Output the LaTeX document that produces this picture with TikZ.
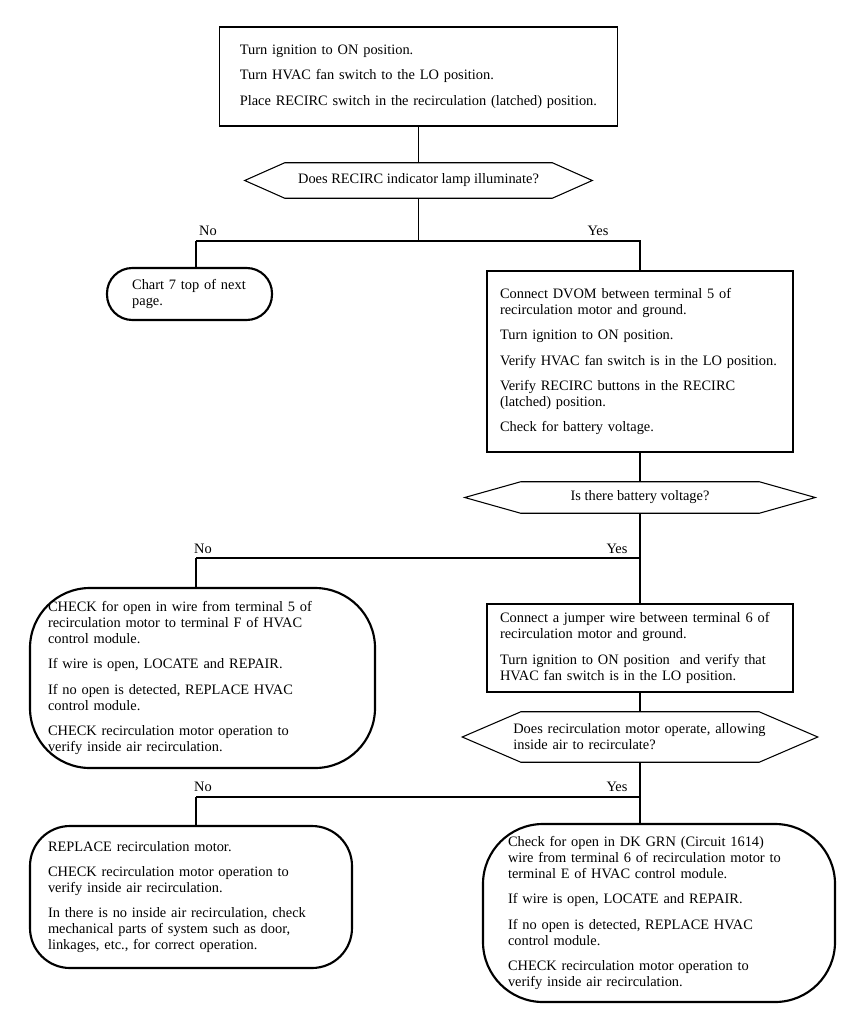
\documentclass[tikz,border=0pt]{standalone}
\usepackage{fontspec}
\setmainfont{Liberation Serif}
\usepackage{tikz}

\begin{document}
\begin{tikzpicture}[x=0.75pt, y=-0.75pt, font=\fontsize{10.8}{12}\selectfont,
    stepbox/.style={rectangle, draw=black, line width=0.8pt, inner sep=0pt, align=left},
    askbox/.style={rectangle, inner sep=0pt, align=center},
    endbox/.style={rectangle, draw=black, line width=1.6pt, inner sep=0pt, align=left},
    wire/.style={draw=black, line width=0.8pt},
    answer/.style={inner sep=1pt}]

    \useasboundingbox (0,0) rectangle (864,1030);

    \node (start) [stepbox, minimum width=298.5pt, minimum height=74.25pt, text width=268pt] at (418.5,76.5)
      {Turn ignition to ON position.\\[7pt]
       Turn HVAC fan switch to the LO position.\\[7pt]
       Place RECIRC switch in the recirculation (latched) position.};
    \node (lamp) [askbox, minimum width=260.25pt, minimum height=26.25pt] at (418.5,180.5)
      {Does RECIRC indicator lamp illuminate?};

    \node (nextpage) [endbox, rounded corners=19pt, minimum width=123.75pt, minimum height=39pt,
      text width=86pt] at (189.5,294)
      {Chart 7 top of next\\ page.};
    \node (dvom) [stepbox, minimum width=229.5pt, minimum height=135.75pt, text width=210pt] at (640,361.5)
      {Connect DVOM between terminal 5 of\\ recirculation motor and ground.\\[7pt]
       Turn ignition to ON position.\\[7pt]
       Verify HVAC fan switch is in the LO position.\\[7pt]
       Verify RECIRC buttons in the RECIRC\\ (latched) position.\\[7pt]
       Check for battery voltage.};
    \node (battery) [askbox, minimum width=262.5pt, minimum height=23.25pt] at (640,497.5)
      {Is there battery voltage?};

    \node (wireF) [endbox, rounded corners=45pt, minimum width=258.75pt, minimum height=135pt,
      text width=231.75pt] at (202.5,678)
      {CHECK for open in wire from terminal 5 of\\ recirculation motor to terminal F of HVAC\\ control module.\\[7pt]
       If wire is open, LOCATE and REPAIR.\\[7pt]
       If no open is detected, REPLACE HVAC\\ control module.\\[7pt]
       CHECK recirculation motor operation to\\ verify inside air recirculation.};
    \node (jumper) [stepbox, minimum width=229.5pt, minimum height=66pt, text width=210pt] at (640,648)
      {Connect a jumper wire between terminal 6 of\\ recirculation motor and ground.\\[7pt]
       Turn ignition to ON position\ \ and verify that\\ HVAC fan switch is in the LO position.};
    \node (motor) [askbox, align=left, text width=190pt, minimum width=266.25pt, minimum height=37.5pt] at (640,737)
      {Does recirculation motor operate, allowing\\ inside air to recirculate?};

    \node (replace) [endbox, rounded corners=30pt, minimum width=241.5pt, minimum height=106.5pt,
      text width=214.5pt] at (191,897)
      {REPLACE recirculation motor.\\[7pt]
       CHECK recirculation motor operation to\\ verify inside air recirculation.\\[7pt]
       In there is no inside air recirculation, check\\ mechanical parts of system such as door,\\
       linkages, etc., for correct operation.};
    \node (circuit) [endbox, rounded corners=45pt, minimum width=264pt, minimum height=133.5pt,
      text width=226.5pt] at (659,913)
      {Check for open in DK GRN (Circuit 1614)\\ wire from terminal 6 of recirculation motor to\\
       terminal E of HVAC control module.\\[7pt]
       If wire is open, LOCATE and REPAIR.\\[7pt]
       If no open is detected, REPLACE HVAC\\ control module.\\[7pt]
       CHECK recirculation motor operation to\\ verify inside air recirculation.};

    % hexagon outlines round the questions
    \foreach \q/\s in {lamp/30pt, battery/42pt, motor/44pt}
      \draw [wire] (\q.west) -- ([xshift=\s]\q.north west) -- ([xshift=-\s]\q.north east)
        -- (\q.east) -- ([xshift=-\s]\q.south east) -- ([xshift=\s]\q.south west) -- cycle;

    % branch points
    \coordinate (split1) at (418.5,241);
    \coordinate (no1) at (196,241);
    \coordinate (split2) at (640,558);
    \coordinate (no2) at (196,558);
    \coordinate (split3) at (640,797);
    \coordinate (no3) at (196,797);

    \draw [wire] (start) -- (lamp);
    \draw [wire] (lamp) -- (split1);
    \draw [wire] (no1) -- (split1) -| (dvom.north);
    \draw [wire] (no1) -- (no1 |- nextpage.north);

    \draw [wire] (dvom) -- (battery);
    \draw [wire] (battery) -- (split2);
    \draw [wire] (no2) -- (split2) -- (jumper.north);
    \draw [wire] (no2) -- (no2 |- wireF.north);

    \draw [wire] (jumper) -- (motor);
    \draw [wire] (motor) -- (split3);
    \draw [wire] (no3) -- (split3) -- (split3 |- circuit.north);
    \draw [wire] (no3) -- (no3 |- replace.north);

    \node [answer] (noA) at (208,231) {No};
    \node [answer] (yesA) at (598,231) {Yes};
    \node [answer] (noB) at (203,549) {No};
    \node [answer] (yesB) at (617,549) {Yes};
    \node [answer] (noC) at (203,787) {No};
    \node [answer] (yesC) at (617,787) {Yes};
\end{tikzpicture}
\end{document}
